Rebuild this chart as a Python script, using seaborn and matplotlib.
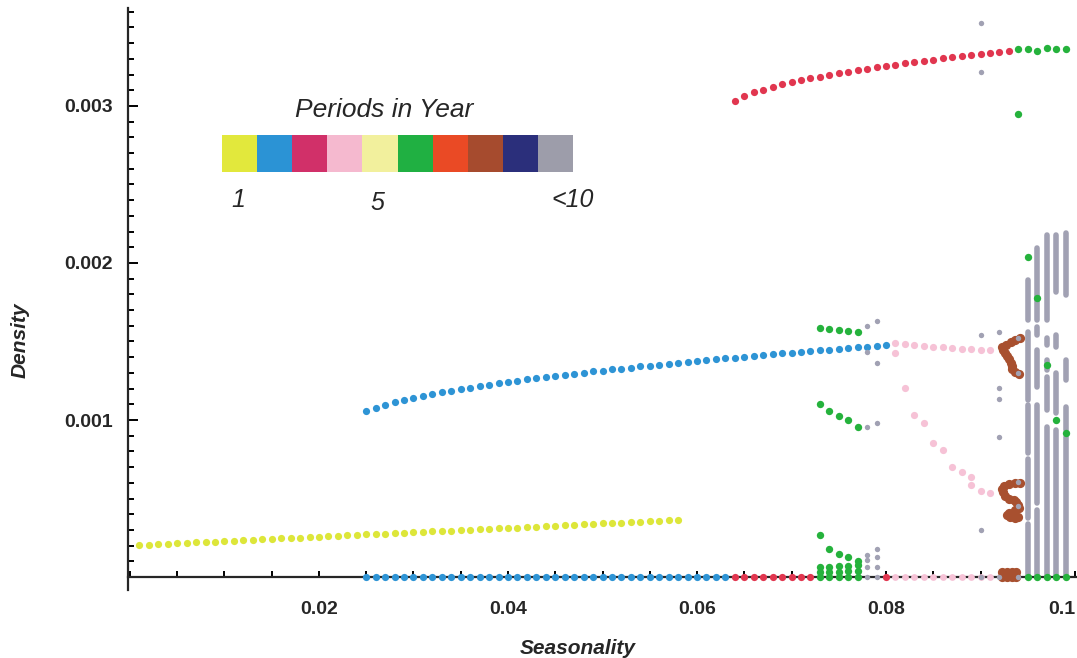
import numpy as np
import matplotlib
matplotlib.use("Agg")
import matplotlib.pyplot as plt
from matplotlib.colors import ListedColormap
from matplotlib.ticker import FixedLocator, MultipleLocator
import seaborn as sns

# Seasonality values are given in thousandths, densities in units of 1e-6.

# ---- legend: colour per number of periods in a year ----
period_colors = ["#e2e83c", "#2b93d5", "#d13069", "#f5b9cf", "#f2f09d",
                 "#20b042", "#ea4a25", "#a64b2e", "#2b2f7b", "#9d9daa"]
period_tick_labels = ["1", "5", "<10"]

# ---- period 1 ----
yellow_k = [1, 2, 3, 4, 5, 6, 7, 8, 9, 10, 11, 12, 13, 14, 15, 16, 17, 18, 19, 20,
            21, 22, 23, 24, 25, 26, 27, 28, 29, 30, 31, 32, 33, 34, 35, 36, 37, 38, 39, 40,
            41, 42, 43, 44, 45, 46, 47, 48, 49, 50, 51, 52, 53, 54, 55, 56, 57, 58]
yellow_y = [204, 207, 210, 212, 215, 218, 221, 224, 226, 229, 232, 235, 237, 240, 243, 246,
            249, 251, 254, 257, 260, 263, 265, 268, 271, 274, 276, 279, 282, 285, 288, 290,
            293, 296, 299, 301, 304, 307, 310, 313, 315, 318, 321, 324, 327, 329, 332, 335,
            338, 341, 343, 346, 349, 352, 354, 357, 360, 363]

# ---- period 2 ----
blue_k = [25, 26, 27, 28, 29, 30, 31, 32, 33, 34, 35, 36, 37, 38, 39, 40, 41, 42, 43, 44,
          45, 46, 47, 48, 49, 50, 51, 52, 53, 54, 55, 56, 57, 58, 59, 60, 61, 62, 63, 64,
          65, 66, 67, 68, 69, 70, 71, 72, 73, 74, 75, 76, 77, 78, 79, 80]
blue_y = [1057, 1079, 1097, 1113, 1128, 1141, 1154, 1165, 1176, 1187, 1197, 1207, 1216,
          1225, 1234, 1242, 1250, 1258, 1266, 1273, 1281, 1288, 1295, 1302, 1309, 1315,
          1322, 1328, 1334, 1341, 1347, 1353, 1359, 1364, 1370, 1376, 1381, 1387, 1392,
          1398, 1403, 1408, 1413, 1419, 1424, 1429, 1434, 1438, 1443, 1448, 1453, 1458,
          1462, 1467, 1472, 1476]
blue_floor_k = [25, 26, 27, 28, 29, 30, 31, 32, 33, 34, 35, 36, 37, 38, 39, 40, 41, 42, 43,
                44, 45, 46, 47, 48, 49, 50, 51, 52, 53, 54, 55, 56, 57, 58, 59, 60, 61, 62, 63]

# ---- period 3 ----
red_k = [64, 65, 66, 67, 68, 69, 70, 71, 72, 73, 74, 75, 76, 77, 78, 79, 80, 81, 82, 83,
         84, 85, 86, 87, 88, 89, 90, 91, 92, 93]
red_y = [3034, 3063, 3086, 3105, 3122, 3137, 3151, 3164, 3176, 3187, 3198, 3209, 3219,
         3229, 3238, 3247, 3256, 3264, 3272, 3281, 3288, 3296, 3304, 3311, 3318, 3325,
         3332, 3339, 3345, 3352]
red_floor_k = [64, 65, 66, 67, 68, 69, 70, 71, 72, 80]

# ---- period 4 ----
pink_k = [81, 82, 83, 84, 85, 86, 87, 88, 89, 90, 91, 81]
pink_y = [1488, 1482, 1476, 1471, 1467, 1463, 1459, 1454, 1450, 1446, 1446, 1429]
pink_low_k = [82, 83, 84, 85, 86, 87, 88, 89, 89, 90, 91]
pink_low_y = [1202, 1032, 983, 855, 809, 703, 671, 639, 586, 550, 537]
pink_floor_k = [81, 82, 83, 84, 85, 86, 87, 88, 89, 90, 91]

# ---- period 6 ----
green_k = [73, 74, 75, 76, 77, 73, 74, 75, 76, 77, 73, 74, 75, 76, 77,
           73, 74, 75, 76, 77, 73, 74, 75, 76, 77, 73, 74, 75, 76, 77,
           94, 95, 96, 97, 98, 99, 94, 95, 96, 97, 98, 99, 95, 96, 97, 98, 99]
green_y = [1584, 1578, 1572, 1565, 1558, 1100, 1059, 1027, 1000, 957, 268, 176, 146, 125, 104,
           64, 66, 68, 70, 74, 32, 32, 34, 36, 38, 0, 0, 0, 0, 0,
           3361, 3361, 3352, 3368, 3361, 3365, 2947, 2036, 1775, 1350, 1000, 915, 0, 0, 0, 0, 0]

# ---- period 8 ----
brown_k = [94.2, 93.7, 93.2, 92.7, 92.3, 92.4, 92.6, 92.8, 93.0, 93.2, 93.3, 93.3, 93.6, 94.1,
           94.2, 93.6, 93.0, 92.5, 92.3, 92.4, 92.6, 93.0, 93.5, 93.8, 94.0, 94.1, 93.6,
           93.0, 92.8, 93.1, 93.6, 94.0,
           92.3, 92.8, 93.3, 93.8, 92.3, 92.8, 93.3, 93.8]
brown_y = [1522, 1508, 1494, 1480, 1466, 1448, 1428, 1408, 1388, 1366, 1344, 1322, 1304, 1296,
           601, 600, 592, 578, 562, 540, 515, 498, 490, 475, 458, 440, 425,
           410, 396, 384, 376, 380,
           0, 0, 0, 0, 35, 35, 35, 35]

# ---- ten or more periods: scattered points ----
gray_k = [90, 90, 78, 79, 78, 79, 78, 79, 78, 78, 78, 78, 79, 79, 79, 79,
          90, 92, 92, 92, 92, 90, 90, 94, 94, 94, 94, 92, 94]
gray_y = [3531, 3219, 1601, 1633, 1435, 1361, 953, 979, 140, 108, 66, 0, 176, 129, 66, 0,
          1541, 1562, 1202, 1132, 894, 299, 0, 1522, 1299, 607, 450, 0, 0]

# ---- ten or more periods: dense runs of points (column, low, high) ----
chaos_k = [95, 95, 95, 95, 95, 95, 95,
           96, 96, 96, 96, 96,
           97, 97, 97, 97, 97, 97, 97,
           98, 98, 98, 98, 98, 98,
           99, 99, 99, 99, 99, 99]
chaos_lo = [2140, 1955, 1637, 1127, 790, 376, 0,
            1637, 1541, 1210, 471, 0,
            1637, 1573, 1478, 1318, 1064, 1032, 0,
            1815, 1701, 1465, 1382, 1045, 0,
            1796, 1682, 1529, 1255, 936, 0]
chaos_hi = [2140, 1955, 1892, 1561, 1096, 752, 338,
            2096, 1592, 1446, 1096, 427,
            2178, 1573, 1522, 1382, 1274, 1032, 955,
            2178, 1701, 1541, 1382, 1299, 936,
            2191, 1682, 1529, 1382, 1083, 892]

x_ticks = [0.02, 0.04, 0.06, 0.08, 0.1]
x_tick_labels = ["0.02", "0.04", "0.06", "0.08", "0.1"]
y_ticks = [0.001, 0.002, 0.003]
y_tick_labels = ["0.001", "0.002", "0.003"]

DOT_COLORS = {"p1": "#dde63a", "p2": "#2e94d5", "p3": "#e1364f", "p4": "#f6c2d6",
              "p6": "#25b23c", "p8": "#a8502f", "many": "#a1a1b3"}

sns.set_style("ticks")
plt.rcParams["font.family"] = ["Liberation Sans", "DejaVu Sans"]

fig = plt.figure(figsize=(10.77, 6.58), dpi=100)
ax = fig.add_axes([128 / 1077, 68 / 658, 949 / 1077, 582 / 658])


def seas(k):
    return np.asarray(k, dtype=float) / 1000.0


def dens(v):
    return np.asarray(v, dtype=float) * 1e-6


def dots(k, v, color, size, z=4):
    sns.scatterplot(x=seas(k), y=dens(v), color=color, s=size, linewidth=0,
                    ax=ax, zorder=z, legend=False)


# dense runs drawn as stacked point columns
runs = ax.vlines(seas(chaos_k), dens(chaos_lo), dens(chaos_hi),
                 colors=DOT_COLORS["many"], linewidth=4.0, zorder=3)
runs.set_capstyle("round")

dots(yellow_k, yellow_y, DOT_COLORS["p1"], 27)
dots(blue_k, blue_y, DOT_COLORS["p2"], 27)
dots(blue_floor_k, [0] * len(blue_floor_k), DOT_COLORS["p2"], 27)
dots(red_k, red_y, DOT_COLORS["p3"], 27)
dots(red_floor_k, [0] * len(red_floor_k), DOT_COLORS["p3"], 27)
dots(pink_k, pink_y, DOT_COLORS["p4"], 27)
dots(pink_low_k, pink_low_y, DOT_COLORS["p4"], 27)
dots(pink_floor_k, [0] * len(pink_floor_k), DOT_COLORS["p4"], 24)
dots(green_k, green_y, DOT_COLORS["p6"], 28, z=5)
dots(brown_k, brown_y, DOT_COLORS["p8"], 44, z=5)
dots(gray_k, gray_y, DOT_COLORS["many"], 15, z=6)

ax.set_xlim(-0.00021, 0.10021)
ax.set_ylim(-0.0000828, 0.0036242)

sns.despine(ax=ax)
ax.spines["bottom"].set_position(("data", 0))
for s in ("left", "bottom"):
    ax.spines[s].set_linewidth(1.6)
    ax.spines[s].set_zorder(2)

ax.xaxis.set_major_locator(FixedLocator(x_ticks))
ax.xaxis.set_minor_locator(MultipleLocator(0.005))
ax.yaxis.set_major_locator(FixedLocator(y_ticks))
ax.yaxis.set_minor_locator(MultipleLocator(0.0001))
ax.set_xticklabels(x_tick_labels, fontsize=14, fontweight="bold")
ax.set_yticklabels(y_tick_labels, fontsize=14, fontweight="bold")
ax.get_xticklabels()[-1].set_horizontalalignment("right")

ax.tick_params(axis="both", which="both", direction="in", width=1.4, color="black")
ax.tick_params(axis="x", which="major", length=4.5, pad=17)
ax.tick_params(axis="x", which="minor", length=4.5)
ax.tick_params(axis="y", which="major", length=7, pad=11)
ax.tick_params(axis="y", which="minor", length=4)
ax.set_xlabel("")
ax.set_ylabel("")

fig.text(20 / 1077, 1 - 340 / 658, "Density", rotation=90, ha="center", va="center",
         fontsize=15, fontweight="bold", fontstyle="italic")
fig.text(578 / 1077, 1 - 648 / 658, "Seasonality", ha="center", va="center",
         fontsize=15, fontweight="bold", fontstyle="italic")

# legend strip
lax = fig.add_axes([221.7 / 1077, 1 - 172.3 / 658, 351.6 / 1077, 37.3 / 658])
sns.heatmap([list(range(len(period_colors)))], cmap=ListedColormap(period_colors),
            vmin=-0.5, vmax=len(period_colors) - 0.5, cbar=False,
            xticklabels=False, yticklabels=False, ax=lax)
lax.set_xlabel("")
lax.set_ylabel("")
fig.text(384 / 1077, 1 - 110 / 658, "Periods in Year", ha="center", va="center",
         fontsize=19, fontstyle="italic")
for label, px, py in zip(period_tick_labels, [238, 377, 573], [200, 203, 200]):
    fig.text(px / 1077, 1 - py / 658, label, ha="center", va="center",
             fontsize=18, fontstyle="italic")

fig.savefig("out.png", dpi=100)
